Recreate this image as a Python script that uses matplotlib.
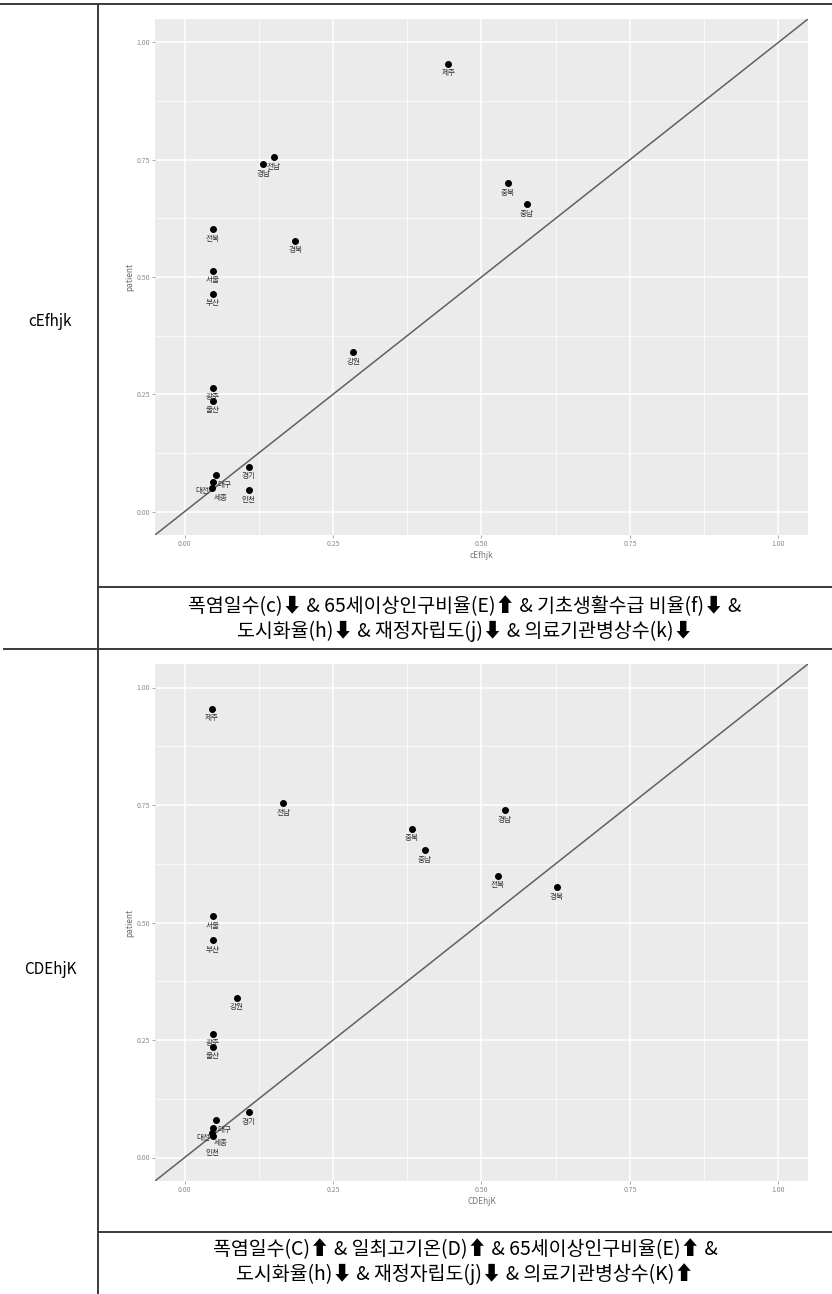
import matplotlib.pyplot as plt
import numpy as np
from matplotlib.lines import Line2D

plt.rcParams['font.family'] = ['Noto Sans CJK KR', 'DejaVu Sans']

# region names and (x, patient) scores for each combination
regions = ['제주', '충북', '충남', '경남', '전남', '전북', '경북', '서울', '부산',
           '강원', '광주', '울산', '경기', '인천', '대구', '대전', '세종']

x_cEfhjk = [0.444, 0.544, 0.576, 0.132, 0.150, 0.047, 0.186, 0.047, 0.047,
            0.284, 0.047, 0.047, 0.108, 0.108, 0.052, 0.047, 0.046]
y_cEfhjk = [0.955, 0.700, 0.655, 0.740, 0.755, 0.602, 0.577, 0.513, 0.464,
            0.340, 0.264, 0.236, 0.096, 0.046, 0.078, 0.064, 0.050]

x_CDEhjK = [0.046, 0.383, 0.405, 0.539, 0.166, 0.527, 0.627, 0.047, 0.047,
            0.088, 0.047, 0.047, 0.108, 0.047, 0.052, 0.048, 0.046]
y_CDEhjK = [0.955, 0.700, 0.654, 0.739, 0.754, 0.600, 0.575, 0.513, 0.462,
            0.340, 0.263, 0.236, 0.096, 0.045, 0.079, 0.062, 0.052]

row_names = ['cEfhjk', 'CDEhjK']
captions = [
    '폭염일수(c)⬇ & 65세이상인구비율(E)⬆ & 기초생활수급 비율(f)⬇ &\n'
    '도시화율(h)⬇ & 재정자립도(j)⬇ & 의료기관병상수(k)⬇',
    '폭염일수(C)⬆ & 일최고기온(D)⬆ & 65세이상인구비율(E)⬆ &\n'
    '도시화율(h)⬇ & 재정자립도(j)⬇ & 의료기관병상수(K)⬆',
]

ticks = [0.0, 0.25, 0.5, 0.75, 1.0]
tick_labels = ['0.00', '0.25', '0.50', '0.75', '1.00']

# label offsets (points) for the crowded bottom-left cluster
nudge = {'대구': (6, -4), '대전': (-7, -4), '세종': (6, -4), '인천': (0, -9)}

W, H = 832, 1294
fig = plt.figure(figsize=(W / 100, H / 100), dpi=100)


def fx(px):
    return px / W


def fy(py):
    return 1 - py / H


def ggpanel(rect, xs, ys, xlabel):
    ax = fig.add_axes(rect)
    ax.set_facecolor('#EBEBEB')
    for s in ax.spines.values():
        s.set_visible(False)
    ax.set_xlim(-0.05, 1.05)
    ax.set_ylim(-0.05, 1.05)
    ax.set_xticks(ticks)
    ax.set_xticklabels(tick_labels)
    ax.set_yticks(ticks)
    ax.set_yticklabels(tick_labels)
    ax.set_xticks(np.arange(0.125, 1.0, 0.25), minor=True)
    ax.set_yticks(np.arange(0.125, 1.0, 0.25), minor=True)
    ax.grid(which='major', color='white', lw=1.1)
    ax.grid(which='minor', color='white', lw=0.5)
    ax.set_axisbelow(True)
    ax.tick_params(which='major', length=2, width=0.6, color='#999999',
                   labelsize=5, labelcolor='#8a8a8a', pad=1.5)
    ax.tick_params(which='minor', length=0)
    ax.set_xlabel(xlabel, fontsize=6, color='#777777', labelpad=2)
    ax.set_ylabel('patient', fontsize=6, color='#666666', labelpad=2)
    ax.plot([-0.05, 1.05], [-0.05, 1.05], color='#606060', lw=1.1, zorder=2)
    ax.scatter(xs, ys, s=16, color='black', zorder=3)
    for name, x, y in zip(regions, xs, ys):
        off = nudge.get(name, (0, -4)) if x < 0.06 and y < 0.09 else (0, -4)
        ax.annotate(name, (x, y), xytext=off, textcoords='offset points',
                    ha='center', va='top', fontsize=5.5, color='#333333',
                    zorder=4)
    return ax


ggpanel([fx(155), fy(535), fx(808) - fx(155), fy(19) - fy(535)],
        x_cEfhjk, y_cEfhjk, row_names[0])
ggpanel([fx(155), fy(1181), fx(808) - fx(155), fy(664) - fy(1181)],
        x_CDEhjK, y_CDEhjK, row_names[1])

# row labels in the left column
fig.text(fx(50), fy(322), row_names[0], ha='center', va='center', fontsize=11)
fig.text(fx(50), fy(970), row_names[1], ha='center', va='center', fontsize=11)

# captions under each plot
fig.text(fx(465), fy(619), captions[0], ha='center', va='center',
         fontsize=14, linespacing=1.2)
fig.text(fx(465), fy(1262), captions[1], ha='center', va='center',
         fontsize=14, linespacing=1.2)

# table rules
rule = dict(color='#3a3a3a', lw=1.4, transform=fig.transFigure)
fig.add_artist(Line2D([0, 1], [fy(4), fy(4)], **rule))
fig.add_artist(Line2D([fx(98), fx(98)], [0, fy(4)], **rule))
fig.add_artist(Line2D([fx(98), 1], [fy(587), fy(587)], **rule))
fig.add_artist(Line2D([fx(4), 1], [fy(649), fy(649)], **rule))
fig.add_artist(Line2D([fx(98), 1], [fy(1232), fy(1232)], **rule))

fig.savefig('out.png', dpi=100)
